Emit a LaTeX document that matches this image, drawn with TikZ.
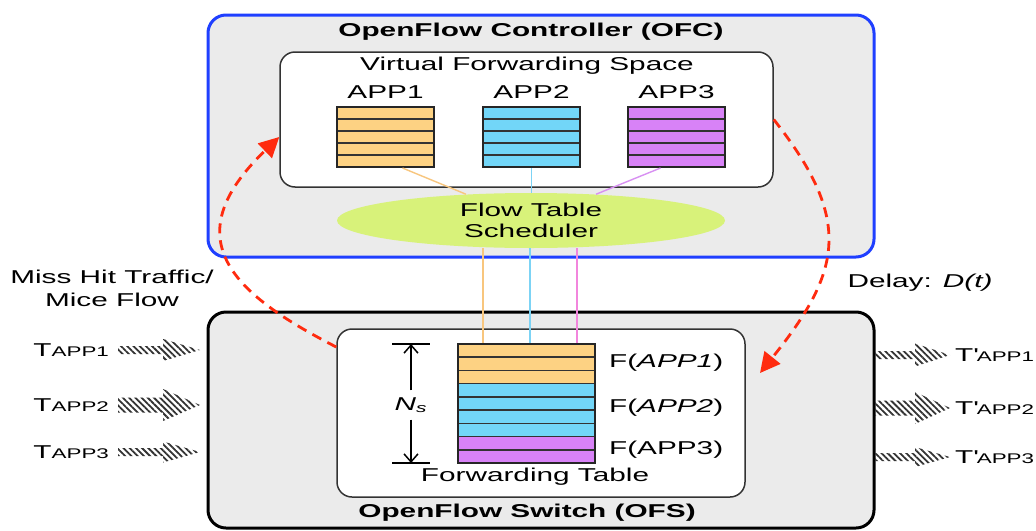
\documentclass[tikz,border=0pt]{standalone}
\usepackage{fontspec}
\setmainfont{Liberation Sans}[FakeStretch=1.6]
\usepackage{xcolor}
\usepackage{tikz}
\usetikzlibrary{arrows.meta,calc,shapes.geometric,patterns.meta}

\definecolor{ofcblue}{HTML}{1F3FFF}
\definecolor{boxgray}{HTML}{EBEBEB}
\definecolor{appone}{HTML}{FDD283}
\definecolor{apptwo}{HTML}{72D6F8}
\definecolor{appthree}{HTML}{D882F7}
\definecolor{schedgreen}{HTML}{D8F27A}
\definecolor{missred}{HTML}{FF2B0F}
\definecolor{oneline}{HTML}{F8C67E}
\definecolor{twoline}{HTML}{7CD3F5}
\definecolor{threeline}{HTML}{D890F2}
\definecolor{pinkline}{HTML}{F286DD}

\tikzset{
  outerbox/.style={line width=1.5pt, fill=boxgray, rounded corners=9pt,
    minimum width=333pt, inner sep=0pt},
  innerbox/.style={draw=black!80, line width=0.75pt, fill=white,
    rounded corners=7.5pt, inner sep=0pt},
  rowline/.style={draw=black!80, line width=0.75pt},
  tablebox/.style={draw=black!85, line width=1pt, inner sep=0pt},
  linkline/.style={line width=0.7pt},
  missarrow/.style={draw=missred, line width=1.4pt, dash pattern=on 5pt off 3.5pt,
    -{Triangle[length=10pt,width=10pt]}},
  traffic/.style={pattern={Lines[angle=-45,distance=2.2pt,line width=0.9pt]},
    pattern color=black!80}
}

\begin{document}
\begin{tikzpicture}[x=0.5pt,y=-0.5pt,font=\fontsize{9.3}{10.5}\selectfont]
        \useasboundingbox (0,0) rectangle (1036,530);
        % controller
        \node[outerbox, draw=ofcblue, minimum height=121pt] (ofc) at (541,136) {};
        \node (ofctitle) at (531,32) {\bfseries OpenFlow Controller (OFC)};
        \node[innerbox, minimum width=246.5pt, minimum height=67.5pt] (vfs) at (526.5,119.5) {};
        \node (vfstitle) at (527,66) {Virtual Forwarding Space};
        \foreach \x/\c [count=\i] in {337/appone,483/apptwo,628/appthree} {
          \foreach \r in {0,...,4}
            \draw[rowline, fill=\c] (\x,{107+12*\r}) rectangle ++(97,12);
          \node[tablebox, minimum width=48.5pt, minimum height=30pt] (app\i) at ({\x+48.5},137) {};
          \node (lbl\i) at ({\x+48.5},92) {APP\i};
        }
        \node[ellipse, fill=schedgreen, inner sep=0pt, minimum width=194pt, minimum height=27.5pt,
          align=center] (sched) at (531,220.5) {Flow Table\\Scheduler};
        \draw[linkline, oneline] ([xshift=8.5pt]app1.south) -- (sched.158);
        \draw[linkline, twoline] (app2.south) -- (app2.south |- sched.north);
        \draw[linkline, threeline] ([xshift=-8pt]app3.south) -- (sched.22);

        % switch
        \node[outerbox, draw=black, minimum height=108pt] (ofs) at (541,420) {};
        \node (ofstitle) at (527,513) {\bfseries OpenFlow Switch (OFS)};
        \node[innerbox, minimum width=204pt, minimum height=84pt] (fsbox) at (541,413) {};
        \foreach \c [count=\r from 0] in {appone,appone,appone,apptwo,apptwo,apptwo,apptwo,appthree,appthree}
          \draw[rowline, fill=\c] (458,{344+13.22*\r}) rectangle ++(137,13.22);
        \node[tablebox, minimum width=68.5pt, minimum height=59.5pt] (ftab) at (526.5,403.5) {};
        \node (ftabtitle) at (535,477) {Forwarding Table};
        \node[anchor=west] (f1) at (602,363) {F(\textit{APP1})};
        \node[anchor=west] (f2) at (602,408) {F(\textit{APP2})};
        \node[anchor=west] (f3) at (602,450) {F(APP3)};

        \draw[linkline, oneline] ([xshift=-21.75pt]ftab.north) -- ([xshift=-21.75pt]ftab.north |- sched.south);
        \draw[linkline, twoline] ([xshift=1.75pt]ftab.north) -- ([xshift=1.75pt]ftab.north |- sched.south);
        \draw[linkline, pinkline] ([xshift=25.25pt]ftab.north) -- ([xshift=25.25pt]ftab.north |- sched.south);

        % N_s
        \node (ns) at (411,405) {\textit{N\textsubscript{s}}};
        \coordinate (nstop) at (411,344);
        \coordinate (nsbot) at (411,463);
        \draw[line width=0.75pt] ([xshift=-9.5pt]nstop) -- ([xshift=9.5pt]nstop);
        \draw[line width=0.75pt] ([xshift=-9.5pt]nsbot) -- ([xshift=9.5pt]nsbot);
        \draw[line width=0.75pt, -{Straight Barb[length=4pt,width=7pt]}] (ns) -- (nstop);
        \draw[line width=0.75pt, -{Straight Barb[length=4pt,width=7pt]}] (ns) -- (nsbot);

        % traffic
        \foreach \y/\s/\h [count=\i] in {350/4/11, 405/7.5/16, 452/4/10.5} {
          \fill[traffic] (118,{\y-\s}) -- (163,{\y-\s}) -- (163,{\y-\h}) -- (200,\y)
            -- (163,{\y+\h}) -- (163,{\y+\s}) -- (118,{\y+\s}) -- cycle;
          \node[anchor=east] (tin\i) at (116,\y) {T{\fontsize{7}{8}\selectfont APP\i}};
        }
        \foreach \y/\s/\h [count=\i] in {355/4/11.5, 408/7.5/16, 457/4/10} {
          \fill[traffic] (875,{\y-\s}) -- (915,{\y-\s}) -- (915,{\y-\h}) -- (950,\y)
            -- (915,{\y+\h}) -- (915,{\y+\s}) -- (875,{\y+\s}) -- cycle;
          \node[anchor=west] (tout\i) at (948,\y) {T\textquotesingle{\fontsize{7}{8}\selectfont APP\i}};
        }

        \node[align=center] (miss) at (112,288) {Miss Hit Traffic/\\[1pt]Mice Flow};
        \node (delay) at (920,283) {Delay: \textit{D(t)}};
        \coordinate (delayend) at (760,373);
        \draw[missarrow] ([yshift=33pt]fsbox.west) .. controls (235,295) and (172,240) .. ([yshift=-8.75pt]vfs.west);
        \draw[missarrow] (vfs.east) .. controls (854,221) and (841,272) .. (delayend);
    \end{tikzpicture}
\end{document}
